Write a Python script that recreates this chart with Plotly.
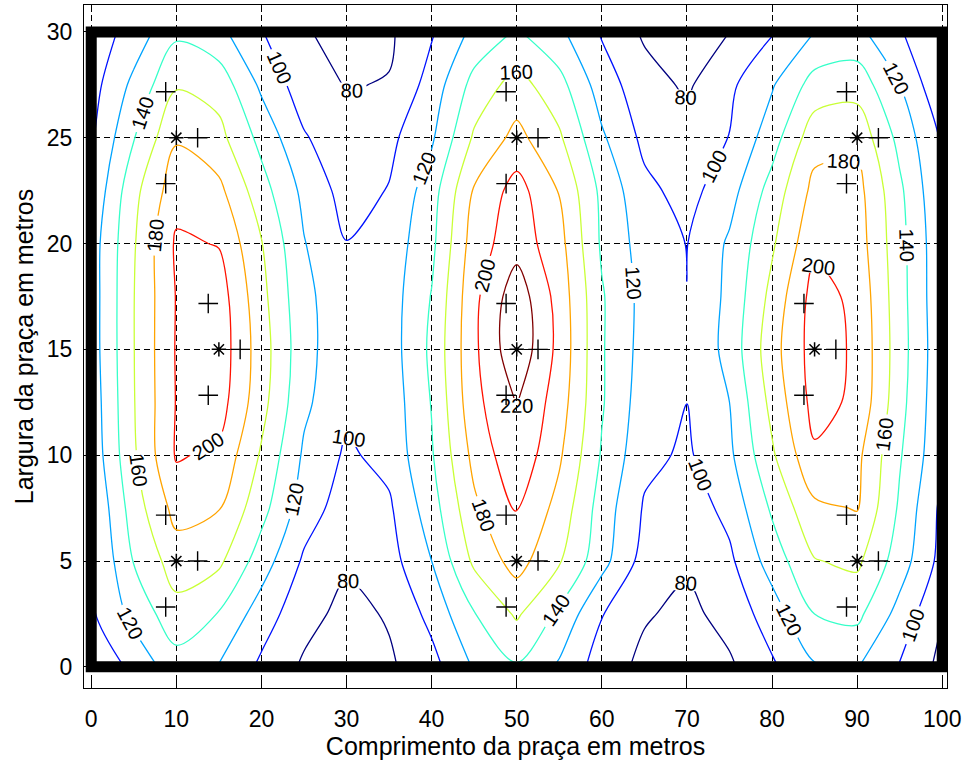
import plotly.graph_objects as go

# Grid positions (metres)
x_m = [0, 5, 10, 15, 20, 25, 30, 35, 40, 45, 50, 55, 60, 65, 70, 75, 80, 85, 90, 95, 100]
y_m = [0, 2.5, 5, 7.5, 10, 12.5, 15, 17.5, 20, 22.5, 25, 27.5, 30]

# Illuminance, one row per y value
row_y00 = [80, 106, 131, 119.5, 96, 77, 68, 77, 93, 122, 138, 117, 90, 75, 68, 77, 97, 118, 121, 99, 74]
row_y02 = [97, 126, 153, 139, 110, 87, 74, 82, 106, 139, 163, 136, 101, 82, 75, 87, 110, 140, 145, 113, 81]
row_y05 = [96, 141, 170, 164, 130, 97, 83, 92, 120, 164, 188, 162, 127, 92, 83, 96, 129, 159, 164, 130, 93]
row_y07 = [99, 150, 187, 181, 147, 110, 90, 97, 131, 176, 201.5, 173, 131, 98, 89, 106, 143, 176, 181, 137, 95]
row_y10 = [106, 157, 202, 196, 157.5, 117, 97, 106, 138, 186, 215, 183, 138, 105, 97, 116, 157, 197, 185, 142, 103]
row_y12 = [108, 159, 201, 209, 167, 124, 104, 108, 141, 194, 221, 190, 142, 109, 100.1, 120, 166, 207, 196, 147, 104]
row_y15 = [110, 159.5, 201.5, 212, 169.5, 127, 105, 110, 144, 196, 235, 194, 142, 112, 100.2, 127, 172, 209, 197, 149, 105]
row_y17 = [110, 159.5, 201, 210, 166, 125, 107, 110, 141, 195, 232, 192, 142, 113, 100.2, 125, 166, 208, 195, 148, 104]
row_y20 = [110, 158, 203, 199, 161, 121, 100.5, 108, 135, 190, 212, 187, 137, 111, 99.5, 123, 157, 196, 190, 147, 104]
row_y22 = [103, 154, 192, 185, 148, 115, 92, 101, 131, 182, 208, 179, 135, 105, 93, 112, 148, 186, 187, 144, 100.5]
row_y25 = [97, 139, 178, 166, 134, 102, 86, 95, 117, 163, 186, 163, 123, 95, 87, 100.5, 131, 172, 174, 134, 97]
row_y27 = [92, 125, 158, 152, 116, 89, 79, 81, 108, 147, 168, 147, 110, 88, 77, 96, 118, 148, 152, 120, 83]
row_y30 = [88, 108, 136, 125, 101, 82, 72, 77, 98, 125, 142, 124, 98, 77, 70, 80, 98, 120, 125, 102, 78]

z_lux = [row_y00, row_y02, row_y05, row_y07, row_y10, row_y12, row_y15,
         row_y17, row_y20, row_y22, row_y25, row_y27, row_y30]

# Lamp posts (*) and lamps (+)
post_x = [10, 15, 10, 50, 50, 50, 90, 85, 90]
post_y = [25, 15, 5, 25, 15, 5, 25, 15, 5]
lamp_x = [12.5, 8.75, 8.75, 17.5, 13.75, 13.75, 12.5, 8.75, 8.75,
          52.5, 48.75, 48.75, 52.5, 48.75, 48.75, 52.5, 48.75, 48.75,
          92.5, 88.75, 88.75, 87.5, 83.75, 83.75, 92.5, 88.75, 88.75]
lamp_y = [25, 27.17, 22.83, 15, 17.17, 12.83, 5, 7.17, 2.83,
          25, 27.17, 22.83, 15, 17.17, 12.83, 5, 7.17, 2.83,
          25, 27.17, 22.83, 15, 17.17, 12.83, 5, 7.17, 2.83]

levels = [80, 100, 120, 140, 160, 180, 200, 220]
level_colors = ["rgb(0,0,128)", "rgb(0,18,255)", "rgb(0,164,255)", "rgb(54,255,201)",
                "rgb(201,255,54)", "rgb(255,164,0)", "rgb(255,18,0)", "rgb(128,0,0)"]

x_ticks = [0, 10, 20, 30, 40, 50, 60, 70, 80, 90, 100]
y_ticks = [0, 5, 10, 15, 20, 25, 30]

FONT = "Liberation Sans Narrow, Liberation Sans, Arial, sans-serif"

n = len(levels) - 1
colorscale = [[i / n, c] for i, c in enumerate(level_colors)]

fig = go.Figure()
fig.add_trace(go.Contour(
    x=x_m, y=y_m, z=z_lux,
    autocontour=False,
    contours=dict(start=levels[0], end=levels[-1], size=levels[1] - levels[0],
                  coloring="lines", showlabels=True,
                  labelfont=dict(size=20, color="black", family=FONT)),
    colorscale=colorscale, showscale=False,
    line=dict(width=1.3, smoothing=0.9),
    hoverinfo="skip",
))
fig.add_trace(go.Scatter(
    x=lamp_x, y=lamp_y, mode="markers",
    marker=dict(symbol="cross-thin", size=14, color="black",
                line=dict(width=1.4, color="black")),
    showlegend=False, hoverinfo="skip",
))
fig.add_trace(go.Scatter(
    x=post_x, y=post_y, mode="markers",
    marker=dict(symbol="asterisk", size=12, color="black",
                line=dict(width=1.5, color="black")),
    showlegend=False, hoverinfo="skip",
))

fig.add_shape(type="rect", xref="x", yref="y", x0=x_ticks[0], x1=x_ticks[-1],
              y0=y_ticks[0], y1=y_ticks[-1], line=dict(color="black", width=11),
              layer="above")

axis_common = dict(
    ticks="inside", ticklen=7, tickcolor="black", tickwidth=1,
    showline=True, linecolor="black", linewidth=1, mirror="ticks",
    showgrid=True, gridcolor="black", gridwidth=1, griddash="6px,4px",
    zeroline=False, tickfont=dict(size=23, color="black", family=FONT),
)

fig.update_xaxes(range=[-0.85, 100.56], tickvals=x_ticks, ticklabelstandoff=10,
                 title=dict(text="Comprimento da praça em metros", standoff=6,
                            font=dict(size=25, color="black", family=FONT)),
                 automargin=False, **axis_common)
fig.update_yaxes(range=[-1.0, 31.27], tickvals=y_ticks, ticklabelstandoff=6,
                 title=dict(text="Largura da praça em metros", standoff=6,
                            font=dict(size=25, color="black", family=FONT)),
                 automargin=False, **axis_common)

fig.update_layout(
    width=964, height=764,
    margin=dict(l=84, r=17, t=5, b=76),
    paper_bgcolor="white", plot_bgcolor="white",
    showlegend=False,
)

fig.write_html("out.html", config={"displayModeBar": False},
               post_script="document.body.style.margin='0px';")
